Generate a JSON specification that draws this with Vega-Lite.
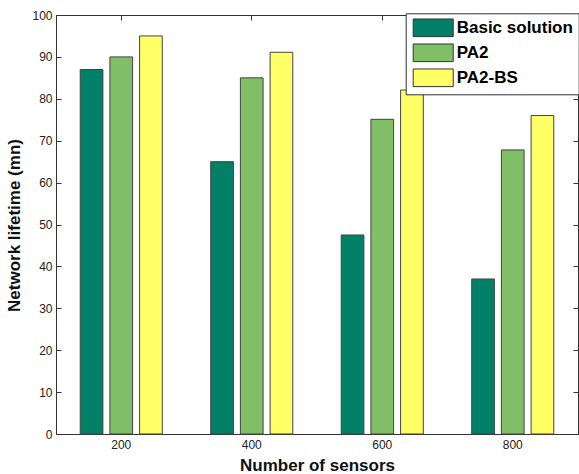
{
  "$schema": "https://vega.github.io/schema/vega-lite/v6.json",
  "width": 522,
  "height": 419,
  "autosize": {"type": "none"},
  "padding": {"left": 56, "top": 15, "right": 1, "bottom": 40},
  "background": "white",
  "config": {
    "view": {"stroke": "#333", "strokeWidth": 1},
    "font": "Liberation Sans",
    "axis": {"domainColor": "#333", "tickColor": "#333", "labelColor": "#222", "labelFont": "Liberation Sans", "labelFontSize": 12, "grid": false}
  },
  "data": {
    "values": [
      {"sensors": "200", "method": "Basic solution", "lifetime": 87},
      {"sensors": "200", "method": "PA2", "lifetime": 90},
      {"sensors": "200", "method": "PA2-BS", "lifetime": 95},
      {"sensors": "400", "method": "Basic solution", "lifetime": 65},
      {"sensors": "400", "method": "PA2", "lifetime": 85},
      {"sensors": "400", "method": "PA2-BS", "lifetime": 91.1},
      {"sensors": "600", "method": "Basic solution", "lifetime": 47.5},
      {"sensors": "600", "method": "PA2", "lifetime": 75.1},
      {"sensors": "600", "method": "PA2-BS", "lifetime": 82.1},
      {"sensors": "800", "method": "Basic solution", "lifetime": 37},
      {"sensors": "800", "method": "PA2", "lifetime": 67.8},
      {"sensors": "800", "method": "PA2-BS", "lifetime": 76}
    ]
  },
  "resolve": {"axis": {"x": "independent", "y": "independent"}},
  "layer": [
    {
      "mark": {"type": "bar", "stroke": "#444", "strokeWidth": 1},
      "encoding": {
        "x": {
          "field": "sensors", "type": "ordinal", "sort": ["200", "400", "600", "800"],
          "scale": {"paddingInner": 0, "paddingOuter": 0},
          "axis": {
            "orient": "bottom", "labelAngle": 0, "ticks": true, "tickSize": -5, "labelPadding": 10,
            "title": "Number of sensors", "titleFont": "Liberation Sans", "titleFontSize": 17, "titleFontWeight": "bold", "titleColor": "#111",
            "titleBaseline": "alphabetic", "titleY": 36
          }
        },
        "xOffset": {
          "field": "method", "type": "nominal", "sort": ["Basic solution", "PA2", "PA2-BS"],
          "scale": {"paddingInner": 0.236, "paddingOuter": 0.815}
        },
        "y": {
          "field": "lifetime", "type": "quantitative",
          "scale": {"domain": [0, 100], "nice": false},
          "axis": {
            "orient": "left", "values": [0, 10, 20, 30, 40, 50, 60, 70, 80, 90, 100], "tickSize": -5, "labelPadding": 9,
            "title": "Network lifetime (mn)", "titleFont": "Liberation Sans", "titleFontSize": 17, "titleFontWeight": "bold", "titleColor": "#111",
            "titleAngle": -90, "titleX": -42, "titleY": 210, "titleAlign": "center", "titleBaseline": "middle"
          }
        },
        "color": {
          "field": "method", "type": "nominal",
          "scale": {"domain": ["Basic solution", "PA2", "PA2-BS"], "range": ["#008066", "#80BF66", "#FFFF66"]},
          "legend": {
            "orient": "none", "legendX": 349.7, "legendY": -1.7, "title": null,
            "symbolType": "M-0.78,-0.98H3.67V0.98H-0.78Z", "symbolSize": 324,
            "symbolStrokeColor": "#333", "symbolStrokeWidth": 1, "symbolOpacity": 1,
            "labelFont": "Liberation Sans", "labelFontSize": 17, "labelFontWeight": "bold", "labelColor": "black",
            "labelExpr": "datum.label + '      '",
            "labelOffset": 27, "rowPadding": 2, "padding": 5,
            "strokeColor": "#333", "fillColor": "white"
          }
        }
      }
    },
    {
      "mark": {"type": "bar", "opacity": 0},
      "encoding": {
        "x": {
          "field": "sensors", "type": "ordinal", "sort": ["200", "400", "600", "800"],
          "axis": {"orient": "top", "labels": false, "tickSize": -5, "title": null}
        },
        "xOffset": {"field": "method", "type": "nominal", "sort": ["Basic solution", "PA2", "PA2-BS"]},
        "y": {
          "field": "lifetime", "type": "quantitative",
          "axis": {"orient": "right", "labels": false, "values": [0, 10, 20, 30, 40, 50, 60, 70, 80, 90, 100], "tickSize": -5, "title": null}
        }
      }
    }
  ]
}
